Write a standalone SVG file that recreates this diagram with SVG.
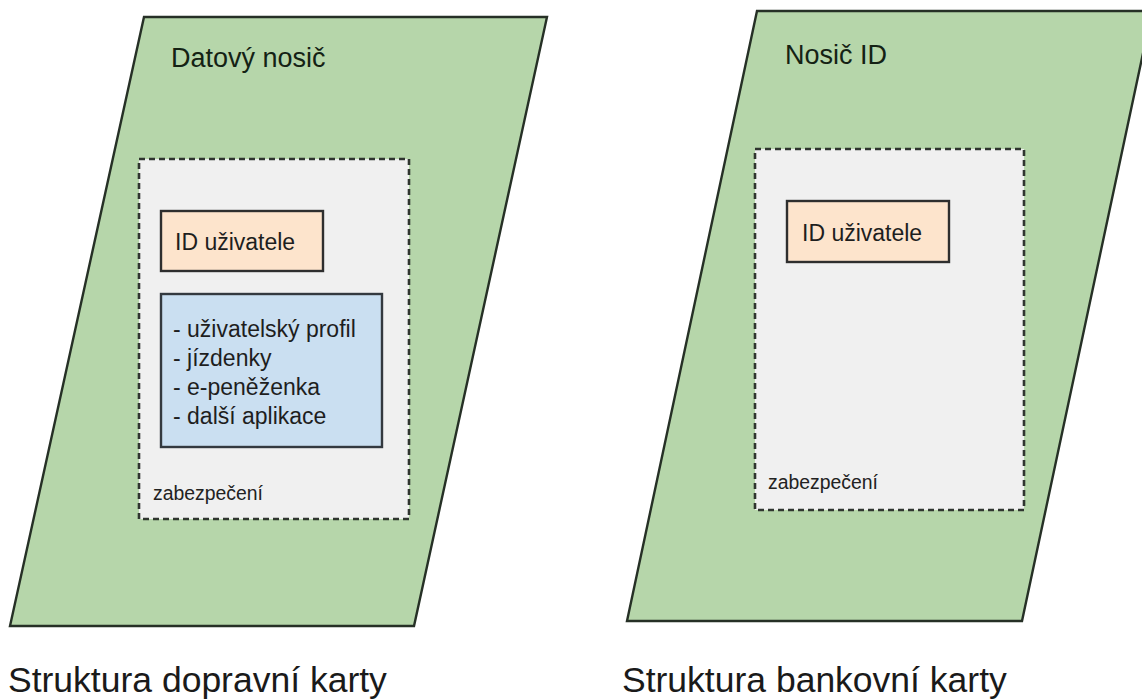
<svg xmlns="http://www.w3.org/2000/svg" width="1142" height="699" viewBox="0 0 1142 699">
  <style>
    text { font-family: "Liberation Sans", Arial, sans-serif; }
    .card { fill: #b6d6aa; stroke: #263026; stroke-width: 2.4; stroke-linejoin: miter; }
    .secure { fill: #f0f0f0; stroke: #2f352f; stroke-width: 2.6; stroke-dasharray: 6 4; }
    .idbox { fill: #fde4cc; stroke: #2e2e2e; stroke-width: 2.4; }
    .apps { fill: #cadff1; stroke: #33393f; stroke-width: 2.4; }
    .title { font-size: 27px; fill: #142214; }
    .label { font-size: 23px; fill: #1e1e1e; }
    .small { font-size: 20px; fill: #222222; }
    .caption { font-size: 35.5px; fill: #1a1a1a; }
  </style>

  <rect width="1142" height="699" fill="#ffffff"/>

  <!-- Transport card -->
  <g id="transport-card">
    <polygon class="card" points="144,17 547,17 414,626 10,626"/>
    <text class="title" x="171" y="67">Datový nosič</text>
  </g>
  <g id="transport-security">
    <rect class="secure" x="139" y="159" width="270" height="360"/>
    <text class="small" x="153" y="500" textLength="110" lengthAdjust="spacingAndGlyphs">zabezpečení</text>
  </g>
  <g id="transport-user-id">
    <rect class="idbox" x="161" y="211" width="162" height="60"/>
    <text class="label" x="175" y="250">ID uživatele</text>
  </g>
  <g id="transport-apps">
    <rect class="apps" x="161" y="294" width="221" height="153"/>
    <text class="label" x="173" y="337">- uživatelský profil</text>
    <text class="label" x="173" y="366">- jízdenky</text>
    <text class="label" x="173" y="395">- e-peněženka</text>
    <text class="label" x="173" y="424">- další aplikace</text>
  </g>
  <g id="transport-caption">
    <text class="caption" x="8" y="692">Struktura dopravní karty</text>
  </g>

  <!-- Bank card -->
  <g id="bank-card">
    <polygon class="card" points="757,11 1152,11 1022,621 627,621"/>
    <text class="title" x="785" y="64">Nosič ID</text>
  </g>
  <g id="bank-security">
    <rect class="secure" x="755" y="149" width="269" height="361"/>
    <text class="small" x="768" y="489" textLength="110" lengthAdjust="spacingAndGlyphs">zabezpečení</text>
  </g>
  <g id="bank-user-id">
    <rect class="idbox" x="787" y="201" width="162" height="61"/>
    <text class="label" x="802" y="241">ID uživatele</text>
  </g>
  <g id="bank-caption">
    <text class="caption" x="622" y="692">Struktura bankovní karty</text>
  </g>

  <g id="connectors"></g>
</svg>
